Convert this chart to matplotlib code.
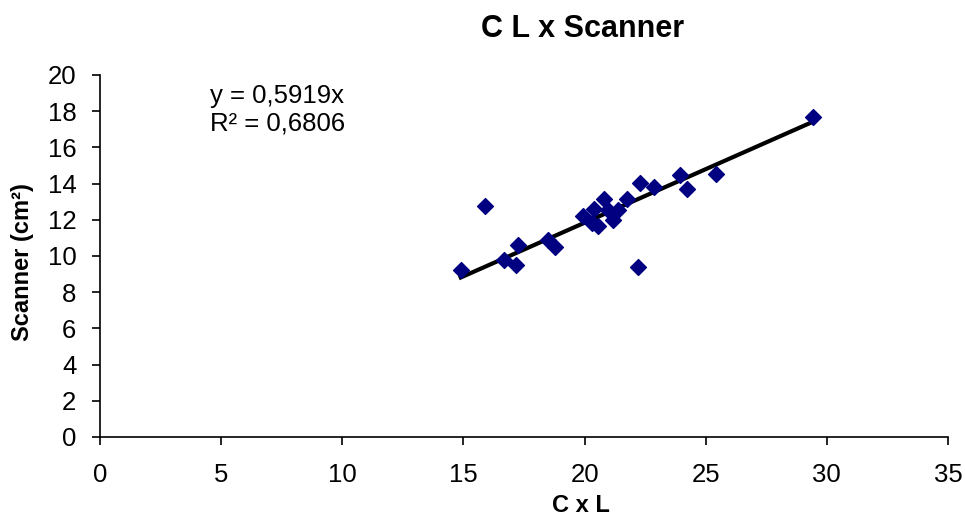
import numpy as np
import matplotlib.pyplot as plt

plt.rcParams['font.family'] = ['Liberation Sans', 'DejaVu Sans']

# C x L vs Scanner readings
cxl = [14.89, 15.89, 16.69, 17.27, 17.17, 18.50, 18.80, 19.95, 20.39, 20.29,
       20.57, 20.80, 20.98, 21.16, 21.39, 21.74, 22.29, 22.22, 22.88, 23.94,
       24.21, 25.42, 29.42]
scanner = [9.23, 12.78, 9.78, 10.60, 9.50, 10.88, 10.48, 12.20, 12.58, 11.80,
           11.67, 13.13, 12.54, 11.99, 12.54, 13.13, 14.02, 9.37, 13.83, 14.48,
           13.68, 14.53, 17.68]
slope = 0.5919
r2 = 0.6806

W, H = 965, 518
fig = plt.figure(figsize=(W/100, H/100), dpi=100)
ax = fig.add_axes([100/W, 1-437/H, 848/W, 362/H])

xl = np.array([min(cxl), max(cxl)])
ax.plot(xl, slope*xl, color='black', lw=3, zorder=2)
ax.scatter(cxl, scanner, marker='D', s=65, color='#000080', zorder=3)

ax.set_xlim(0, 35)
ax.set_ylim(0, 20)
ax.set_xticks(range(0, 36, 5))
ax.set_yticks(range(0, 21, 2))
ax.spines['top'].set_visible(False)
ax.spines['right'].set_visible(False)
ax.spines['left'].set_linewidth(1.2)
ax.spines['bottom'].set_linewidth(1.2)
ax.tick_params(labelsize=18.5, length=6, width=1.2, direction='out')
ax.tick_params(axis='y', pad=11)
ax.tick_params(axis='x', pad=13)

# axis titles and chart title placed by hand, as in the source chart
fig.text(581/W, 1-505/H, 'C x L', fontsize=17, fontweight='bold',
         ha='center', va='center')
fig.text(23/W, 1-262/H, 'Scanner (cm²)', fontsize=17, fontweight='bold',
         ha='center', va='center', rotation=90)
fig.text(583/W, 1-29/H, 'C L x Scanner', fontsize=22, fontweight='bold',
         ha='center', va='center')

ax.text((210-100)/848, (437-96)/362, 'y = %sx' % str(slope).replace('.', ','),
        transform=ax.transAxes, fontsize=18.5, va='center')
ax.text((210-100)/848, (437-124)/362, 'R² = %s' % str(r2).replace('.', ','),
        transform=ax.transAxes, fontsize=18.5, va='center')

fig.savefig('out.png', dpi=100)
